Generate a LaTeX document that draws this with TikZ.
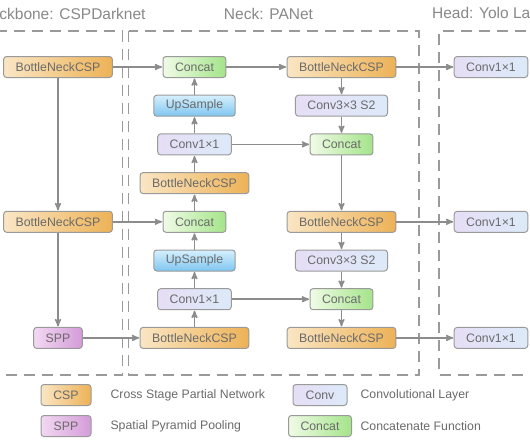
\documentclass[tikz,border=0pt]{standalone}
\usepackage{fontspec}
\setmainfont{Liberation Sans}
\usepackage{tikz}
\usetikzlibrary{arrows}

\definecolor{cspA}{HTML}{FAE6C4}
\definecolor{cspB}{HTML}{EDB257}
\definecolor{sppA}{HTML}{F2D8F2}
\definecolor{sppB}{HTML}{D49CD8}
\definecolor{convA}{HTML}{E6DEF6}
\definecolor{convB}{HTML}{DCEAF8}
\definecolor{upA}{HTML}{D6F0FD}
\definecolor{upB}{HTML}{7EC6F0}
\definecolor{catA}{HTML}{F0FBE6}
\definecolor{catB}{HTML}{A4E48A}
\definecolor{boxline}{HTML}{9A9A9A}
\definecolor{linegray}{HTML}{8C8C8C}
\definecolor{txtgray}{HTML}{6A6A6A}
\definecolor{titlegray}{HTML}{888888}

\begin{document}
\begin{tikzpicture}[x=1pt,y=-1pt,>=stealth',shorten >=0.5pt,node distance=38.7pt,
                    font=\fontsize{12.3}{14}\selectfont]
  \tikzstyle{block}=[draw=boxline,line width=1pt,rounded corners=3pt,
                     minimum height=21pt,inner xsep=12pt,text=txtgray]
  \tikzstyle{csp}=[block,left color=cspA,right color=cspB]
  \tikzstyle{spp}=[block,left color=sppA,right color=sppB]
  \tikzstyle{conv}=[block,left color=convA,right color=convB]
  \tikzstyle{upsmp}=[block,top color=upA,bottom color=upB]
  \tikzstyle{cat}=[block,left color=catA,right color=catB]
  \tikzstyle{flow}=[->,color=linegray,line width=1.5pt]
  \tikzstyle{region}=[draw=boxline,line width=1.4pt,dash pattern=on 11pt off 7pt]
  \tikzstyle{title}=[text=titlegray,font=\fontsize{15.5}{18}\selectfont]
  \tikzstyle{legtext}=[anchor=west,text=txtgray]

  \useasboundingbox (0,0) rectangle (530,442);
  \clip (0,0) rectangle (530,442);

  % dashed regions
  \draw[region] (-40,31) -- (122.5,31) -- (122.5,375) -- (-40,375);
  \draw[region] (128.5,31) rectangle (419,375);
  \draw[region] (580,31) -- (439,31) -- (439,375) -- (580,375);

  \node[title] (tbb)   at (63,14)    {Backbone: CSPDarknet};
  \node[title] (tneck) at (268.5,14) {Neck: PANet};
  \node[title] (thead) at (492,14)   {Head: Yolo Layer};

  % neck, upward path
  \node[cat]   (cat1)              at (194.5,67) {Concat};
  \node[upsmp] (up1)  [below of=cat1]            {UpSample};
  \node[conv]  (cva)  [below of=up1]             {Conv1×1};
  \node[csp]   (nb1)  [below of=cva]             {BottleNeckCSP};
  \node[cat]   (cat2) [below of=nb1]             {Concat};
  \node[upsmp] (up2)  [below of=cat2]            {UpSample};
  \node[conv]  (cvb)  [below of=up2]             {Conv1×1};
  \node[csp]   (nb2)  [below of=cvb]             {BottleNeckCSP};

  % neck, downward path
  \node[csp]   (pb1)               at (341.5,67) {BottleNeckCSP};
  \node[conv]  (ds1)  [below of=pb1]             {Conv3×3 S2};
  \node[cat]   (cat3) [below of=ds1]             {Concat};
  \node[csp]   (pb2)  [below of=cat3,node distance=77.4pt] {BottleNeckCSP};
  \node[conv]  (ds2)  [below of=pb2]             {Conv3×3 S2};
  \node[cat]   (cat4) [below of=ds2]             {Concat};
  \node[csp]   (pb3)  [below of=cat4]            {BottleNeckCSP};

  % backbone
  \node[csp]   (bb1)  [left of=cat1,node distance=136.5pt] {BottleNeckCSP};
  \node[csp]   (bb2)  [left of=cat2,node distance=136.5pt] {BottleNeckCSP};
  \node[spp]   (spp)  [left of=nb2,node distance=136.5pt]  {SPP};

  % head
  \node[conv]  (hd1)  [right of=pb1,node distance=149.5pt] {Conv1×1};
  \node[conv]  (hd2)  [right of=pb2,node distance=149.5pt] {Conv1×1};
  \node[conv]  (hd3)  [right of=pb3,node distance=149.5pt] {Conv1×1};

  \path[flow] (bb1) edge (bb2)
              (bb2) edge (spp)
              (bb1) edge (cat1)
              (bb2) edge (cat2)
              (spp) edge (nb2)
              (nb2) edge (cvb)
              (cvb) edge (up2)
              (up2) edge (cat2)
              (cat2) edge (nb1)
              (nb1) edge (cva)
              (cva) edge (up1)
              (up1) edge (cat1)
              (cat1) edge (pb1)
              (pb1) edge (ds1)
              (ds1) edge (cat3)
              (cat3) edge (pb2)
              (pb2) edge (ds2)
              (ds2) edge (cat4)
              (cat4) edge (pb3)
              (cva) edge (cat3)
              (cvb) edge (cat4)
              (pb1) edge (hd1)
              (pb2) edge (hd2)
              (pb3) edge (hd3);

  % legend
  \node[csp,minimum width=50pt]  (lcsp)  at (66,395)  {CSP};
  \node[spp,minimum width=50pt]  (lspp)  at (66,426)  {SPP};
  \node[conv,minimum width=54pt] (lconv) at (320,395) {Conv};
  \node[cat,minimum width=63pt]  (lcat)  at (320,426) {Concat};
  \node[legtext] (lcspt)  at (107,395) {Cross Stage Partial Network};
  \node[legtext] (lsppt)  at (107,426) {Spatial Pyramid Pooling};
  \node[legtext] (lconvt) at (357,395) {Convolutional Layer};
  \node[legtext] (lcatt)  at (357,426) {Concatenate Function};
\end{tikzpicture}
\end{document}
